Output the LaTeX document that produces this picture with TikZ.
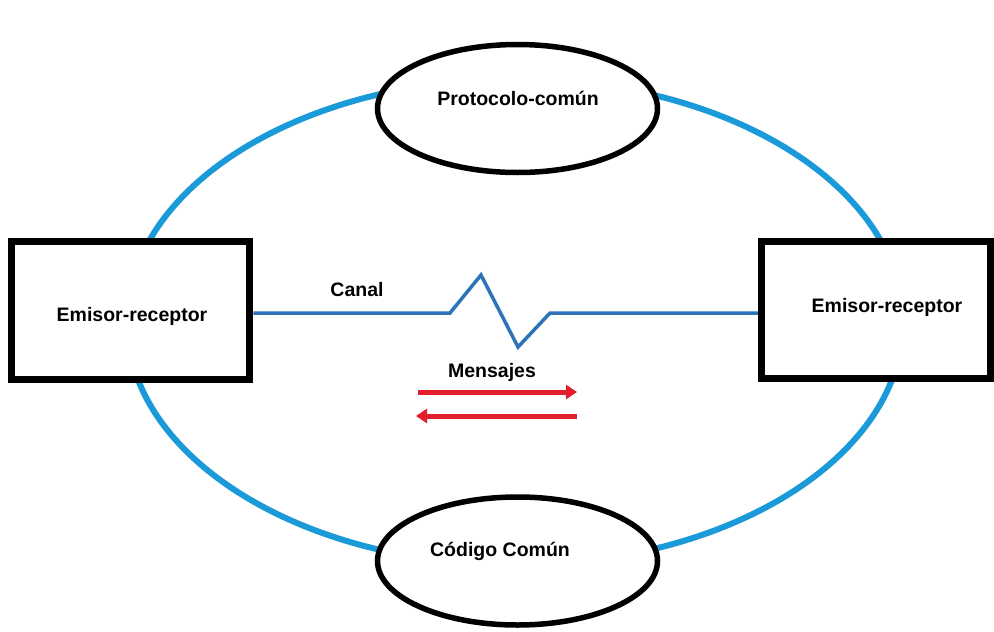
\documentclass[tikz,border=0pt]{standalone}
\usepackage{fontspec}
\setmainfont{Liberation Sans}
\usetikzlibrary{shapes.geometric,arrows.meta}
\definecolor{ringblue}{RGB}{26,154,217}
\definecolor{canalblue}{RGB}{46,114,184}
\definecolor{msgred}{RGB}{226,30,44}
\tikzset{
  ring/.style={draw=ringblue, line width=6pt},
  endpoint/.style={draw=black, fill=white, line width=7.5pt, rectangle, inner sep=0pt},
  agreement/.style={draw=black, fill=white, line width=5.5pt, ellipse, inner sep=0pt,
    minimum width=280pt, minimum height=128pt},
  txt/.style={font=\fontsize{19.5}{23}\selectfont\bfseries, inner sep=0pt},
  canal/.style={draw=canalblue, line width=3.5pt},
  msg/.style={draw=msgred, line width=5pt, -{Triangle[length=11pt,width=14pt]}}
}
\begin{document}
\begin{tikzpicture}[x=1pt,y=-1pt]
\useasboundingbox[fill=white] (0,0) rectangle (994,632);

% shared context: the ring linking both ends
\draw[ring] (515,322) ellipse [x radius=388, y radius=243];

% the two communicating ends
\node[endpoint, minimum width=238pt, minimum height=138pt] (L) at (130.5,310.5) {};
\node[endpoint, minimum width=229pt, minimum height=137pt] (R) at (876,310) {};
\node[txt] (Ltxt) at (132,316) {Emisor-receptor};
\node[txt] (Rtxt) at (887,307) {Emisor-receptor};

% shared protocol and code
\node[agreement] (P) at (517.5,108.5) {};
\node[txt] (Ptxt) at (518,98) {Protocolo-común};
\node[agreement] (C) at (517.5,561) {};
\node[txt] (Ctxt) at (500,551) {Código Común};

% channel with noise zig-zag
\coordinate (k1) at (450,313);
\coordinate (k2) at (481,275);
\coordinate (k3) at (518,347);
\coordinate (k4) at (550,313);
\draw[canal, line join=miter] (L.east |- k1) -- (k1) -- (k2) -- (k3) -- (k4) -- (R.west |- k4);
\node[txt] (canal) at (357,290) {Canal};

% messages in both directions
\node[txt] (mens) at (492,372) {Mensajes};
\coordinate (a1) at (418,392);
\coordinate (a2) at (577,392);
\coordinate (b1) at (577,416);
\coordinate (b2) at (416,416);
\draw[msg] (a1) -- (a2);
\draw[msg] (b1) -- (b2);
\end{tikzpicture}
\end{document}
